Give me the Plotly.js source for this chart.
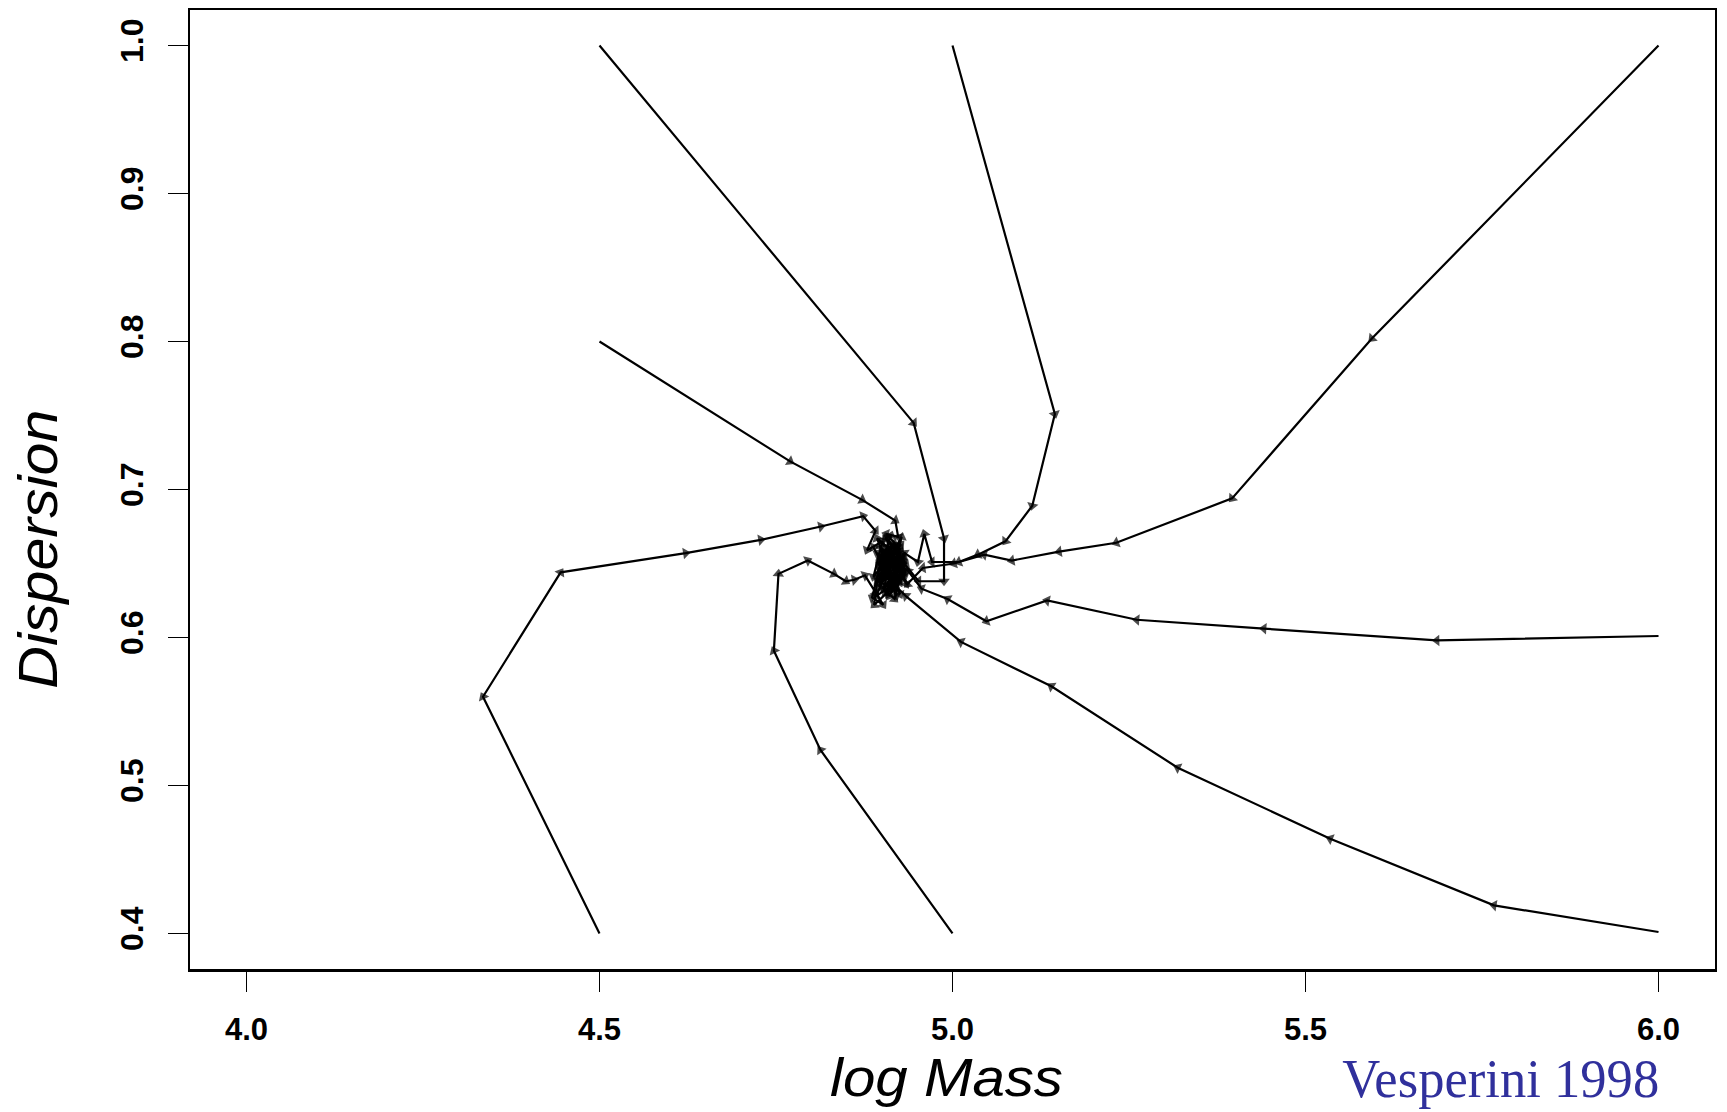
<!DOCTYPE html>
<html>
<head>
<meta charset="utf-8">
<script src="https://cdn.plot.ly/plotly-3.0.1.min.js"></script>
<style>
  html, body { margin: 0; padding: 0; background: #ffffff; }
  #chart { width: 1727px; height: 1112px; }
</style>
</head>
<body>
<div id="chart"></div>
<script>
// Evolution tracks of cluster mass and dispersion, each starting from a corner
// or edge of the grid and spiralling into the common attractor near log M ~ 4.91.
const track1LogMass = [4.5, 4.945, 4.988, 4.988, 4.952, 4.928, 4.915, 4.926, 4.904, 4.921, 4.933, 4.912, 4.898, 4.918, 4.927, 4.903, 4.921, 4.895, 4.913];
const track1Disp    = [1.0, 0.745, 0.667, 0.638, 0.638, 0.652, 0.640, 0.629, 0.651, 0.661, 0.644, 0.636, 0.655, 0.648, 0.658, 0.643, 0.631, 0.650, 0.662];

const track2LogMass = [5.0, 5.145, 5.113, 5.075, 5.036, 5.009, 4.971, 4.960, 4.951, 4.932, 4.915, 4.902, 4.918, 4.930, 4.908, 4.922, 4.899, 4.924, 4.910, 4.934, 4.905];
const track2Disp    = [1.0, 0.751, 0.689, 0.665, 0.656, 0.651, 0.651, 0.670, 0.651, 0.657, 0.642, 0.633, 0.626, 0.648, 0.660, 0.645, 0.652, 0.638, 0.628, 0.650, 0.667];

const track3LogMass = [6.0, 5.594, 5.396, 5.232, 5.151, 5.084, 5.045, 5.002, 4.958, 4.936, 4.911, 4.897, 4.921, 4.906, 4.928, 4.914, 4.895, 4.918, 4.930, 4.902, 4.920];
const track3Disp    = [1.0, 0.802, 0.694, 0.664, 0.658, 0.652, 0.656, 0.650, 0.647, 0.636, 0.659, 0.647, 0.640, 0.668, 0.654, 0.633, 0.638, 0.660, 0.644, 0.654, 0.628];

const track4LogMass = [6.0, 5.686, 5.441, 5.261, 5.134, 5.048, 4.993, 4.956, 4.937, 4.913, 4.926, 4.899, 4.917, 4.932, 4.905, 4.921, 4.893, 4.914, 4.928, 4.903];
const track4Disp    = [0.601, 0.598, 0.606, 0.612, 0.625, 0.611, 0.626, 0.633, 0.645, 0.652, 0.637, 0.644, 0.664, 0.641, 0.630, 0.650, 0.657, 0.640, 0.668, 0.646];

const track5LogMass = [6.0, 5.767, 5.535, 5.319, 5.140, 5.012, 4.934, 4.919, 4.904, 4.926, 4.909, 4.889, 4.894, 4.915, 4.929, 4.900, 4.912, 4.897, 4.924, 4.908, 4.931];
const track5Disp    = [0.401, 0.419, 0.464, 0.512, 0.567, 0.597, 0.628, 0.635, 0.648, 0.655, 0.631, 0.622, 0.641, 0.652, 0.643, 0.658, 0.637, 0.662, 0.647, 0.629, 0.655];

const track6LogMass = [5.0, 4.813, 4.747, 4.7535, 4.795, 4.832, 4.849, 4.861, 4.876, 4.891, 4.902, 4.886, 4.899, 4.888, 4.907, 4.893, 4.916, 4.902, 4.925, 4.897, 4.913];
const track6Disp    = [0.4, 0.524, 0.591, 0.643, 0.652, 0.643, 0.638, 0.639, 0.642, 0.630, 0.622, 0.627, 0.651, 0.661, 0.644, 0.637, 0.655, 0.633, 0.642, 0.646, 0.669];

const track7LogMass = [4.5, 4.335, 4.445, 4.622, 4.7285, 4.8136, 4.8735, 4.891, 4.879, 4.901, 4.888, 4.910, 4.896, 4.920, 4.905, 4.925, 4.892, 4.918, 4.906];
const track7Disp    = [0.4, 0.560, 0.644, 0.657, 0.666, 0.675, 0.682, 0.672, 0.659, 0.665, 0.641, 0.655, 0.634, 0.649, 0.660, 0.639, 0.628, 0.657, 0.641];

const track8LogMass = [4.5, 4.770, 4.872, 4.919, 4.923, 4.906, 4.926, 4.911, 4.893, 4.931, 4.914, 4.900, 4.927, 4.897, 4.918, 4.935, 4.908];
const track8Disp    = [0.8, 0.719, 0.693, 0.679, 0.668, 0.670, 0.660, 0.645, 0.667, 0.652, 0.637, 0.649, 0.663, 0.641, 0.653, 0.636, 0.656];

const xTickVals = [4.0, 4.5, 5.0, 5.5, 6.0];
const xTickText = ['4.0', '4.5', '5.0', '5.5', '6.0'];
const yTickVals = [0.4, 0.5, 0.6, 0.7, 0.8, 0.9, 1.0];
const yTickText = ['0.4', '0.5', '0.6', '0.7', '0.8', '0.9', '1.0'];

const xTitle = 'log Mass';
const yTitle = 'Dispersion';
const credit = 'Vesperini 1998';

const tracks = [
  [track1LogMass, track1Disp],
  [track2LogMass, track2Disp],
  [track3LogMass, track3Disp],
  [track4LogMass, track4Disp],
  [track5LogMass, track5Disp],
  [track6LogMass, track6Disp],
  [track7LogMass, track7Disp],
  [track8LogMass, track8Disp]
];

// Each track: a black polyline with small arrowheads at every step,
// oriented along the direction of travel (none on the starting point).
const data = tracks.map(([xs, ys]) => ({
  type: 'scatter',
  mode: 'lines+markers',
  x: xs,
  y: ys,
  line: { color: '#000000', width: 2.2 },
  marker: {
    symbol: 'triangle-up',
    angleref: 'previous',
    color: '#000000',
    size: xs.map((_, i) => (i === 0 ? 0 : 10)),
    line: { width: 0 }
  },
  showlegend: false,
  hoverinfo: 'x+y'
}));

const axisFont = 'Liberation Sans, Arial, Helvetica, sans-serif';

const layout = {
  width: 1727,
  height: 1112,
  margin: { l: 190, r: 12, t: 10, b: 143 },
  paper_bgcolor: '#ffffff',
  plot_bgcolor: '#ffffff',
  showlegend: false,
  xaxis: {
    range: [3.92, 6.08],
    tickmode: 'array',
    tickvals: xTickVals,
    ticktext: xTickText,
    ticks: 'outside',
    ticklen: 20,
    tickwidth: 1.5,
    tickcolor: '#000000',
    ticklabelstandoff: 11,
    tickfont: { family: axisFont, size: 31, weight: 'bold', color: '#000000' },
    showline: true,
    mirror: true,
    linewidth: 2.5,
    linecolor: '#000000',
    showgrid: false,
    zeroline: false,
    title: {
      text: xTitle,
      font: { family: axisFont, size: 54, style: 'italic', color: '#000000' },
      standoff: 11
    }
  },
  yaxis: {
    range: [0.376, 1.024],
    tickmode: 'array',
    tickvals: yTickVals,
    ticktext: yTickText,
    tickangle: -90,
    ticks: 'outside',
    ticklen: 20,
    tickwidth: 1.5,
    tickcolor: '#000000',
    ticklabelstandoff: 12,
    tickfont: { family: axisFont, size: 32, weight: 'bold', color: '#000000' },
    showline: true,
    mirror: true,
    linewidth: 2,
    linecolor: '#000000',
    showgrid: false,
    zeroline: false
  },
  annotations: [
    {
      text: yTitle,
      xref: 'paper', yref: 'paper',
      x: -0.1, y: 0.438,
      xanchor: 'center', yanchor: 'middle',
      textangle: -90,
      showarrow: false,
      font: { family: axisFont, size: 56, style: 'italic', color: '#000000' }
    },
    {
      text: credit,
      xref: 'paper', yref: 'paper',
      x: 0.8593, y: -0.115,
      xanchor: 'center', yanchor: 'middle',
      showarrow: false,
      font: { family: 'Liberation Serif, Times New Roman, serif', size: 54, color: '#30309c' }
    }
  ]
};

Plotly.newPlot('chart', data, layout, { staticPlot: true, displayModeBar: false }).then(gd => {
  // Fit the axis titles to their printed lengths; the x title sits a little left of centre.
  const xt = gd.querySelector('.xtitle');
  if (xt) {
    xt.setAttribute('textLength', '233');
    xt.setAttribute('lengthAdjust', 'spacingAndGlyphs');
    const x0 = parseFloat(xt.getAttribute('x'));
    if (!isNaN(x0)) xt.setAttribute('x', String(x0 - 6));
  }
  const ann = gd.querySelectorAll('.annotation-text');
  if (ann[0]) {
    ann[0].setAttribute('textLength', '279');
    ann[0].setAttribute('lengthAdjust', 'spacingAndGlyphs');
  }
  if (ann[1]) {
    ann[1].setAttribute('textLength', '317');
    ann[1].setAttribute('lengthAdjust', 'spacingAndGlyphs');
  }
});
</script>
</body>
</html>
